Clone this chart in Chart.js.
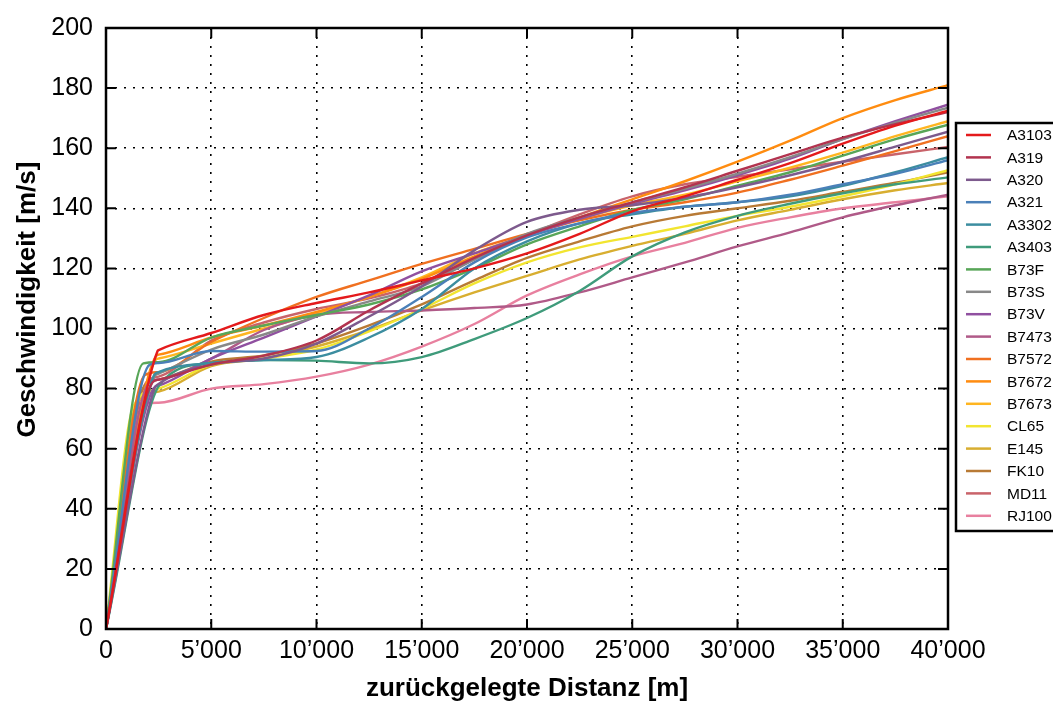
<!DOCTYPE html>
<html>
<head>
<meta charset="utf-8">
<script src="https://cdn.jsdelivr.net/npm/chart.js@4"></script>
<style>
  html, body { margin: 0; padding: 0; background: #fff; }
  canvas { display: block; }
</style>
</head>
<body>
<canvas id="grafico" width="1053" height="704"></canvas>
<script>
// Flugzeugtypen und Farben
const aircraft = ['A3103', 'A319', 'A320', 'A321', 'A3302', 'A3403', 'B73F', 'B73S', 'B73V',
                  'B7473', 'B7572', 'B7672', 'B7673', 'CL65', 'E145', 'FK10', 'MD11', 'RJ100'];
const colors = ['#e41a1c', '#b2334f', '#7d5a8d', '#4a80b8', '#3c8da0', '#3f9b7b', '#58a658', '#888888', '#9050a0',
                '#b05a88', '#f07020', '#ff8c10', '#ffb520', '#f2e530', '#d8ae30', '#b87a35', '#c9636a', '#e8809f'];

// Ende der Startrollstrecke (Distanz [m], Geschwindigkeit [m/s])
const rollDist  = [2450, 2200, 2300, 2080, 2250, 2570, 1770, 2300, 2250, 2050, 1850, 2400, 2350, 1300, 1450, 1750, 1900, 1900];
const rollSpeed = [92.5, 82, 80, 88, 84, 81.5, 88.4, 84, 80, 82, 84.5, 91, 89.5, 74, 75, 80, 82, 75];

// Stützstellen der Distanz
const distances = [2500, 5000, 7500, 10000, 12500, 15000, 17500, 20000, 22500, 25000, 27500, 30000, 32500, 35000, 37500, 40000];

const vA3103 = [92.8, 98.5, 104.5, 108.5, 112, 116, 120, 125, 131.5, 139, 144, 149.5, 155, 161.5, 167.5, 172.5];
const vA319  = [83, 88, 91, 96, 106, 115, 123.5, 131, 137, 142, 147, 152.5, 158, 163.5, 168, 172];
const vA320  = [81.5, 88, 90, 95, 104, 114, 126, 135.5, 139.5, 141, 143.5, 147, 151, 155.5, 160.5, 165.5];
const vA321  = [88.5, 92.5, 92.3, 92.5, 100, 110.5, 122, 130.3, 135, 138.5, 140.5, 142, 144.5, 148, 151.5, 156];
const vA3302 = [85.5, 88.5, 89.5, 90.5, 97, 106.5, 120, 129, 135, 138, 140.5, 142, 144, 147.5, 152, 157];
const vA3403 = [null, 88.5, 89.5, 89.3, 88.4, 90.5, 96.5, 103.5, 112.5, 124, 132, 137.5, 141.5, 145, 148, 150.3];
const vB73F  = [88.8, 97, 101, 104.5, 108, 113, 120, 128, 134, 139.5, 143, 147.5, 152, 157.5, 163, 167.8];
const vB73S  = [85, 93, 98, 104, 109, 114, 123, 131.5, 137, 142, 146.5, 151.5, 157, 163, 168.5, 173.5];
const vB73V  = [81, 90, 97, 104, 111, 119, 125, 131, 136.5, 141.5, 146, 151, 156.5, 163, 169, 174.5];
const vB7473 = [83, 90, 99.5, 104.5, 105.5, 106, 106.8, 108, 112, 117, 122, 127.3, 132, 137, 141, 144.5];
const vB7572 = [85.5, 95.5, 103.5, 110.5, 116, 121.5, 126.5, 131.5, 136, 139.5, 142, 145.2, 149.5, 154.2, 159, 164];
const vB7672 = [91.3, 97, 101, 105.5, 110.5, 116.5, 124, 131, 137, 143, 149, 155.5, 162.5, 170, 176, 181];
const vB7673 = [90, 95, 100, 105, 110.5, 117, 125, 131, 136.5, 141, 144.5, 149, 153.5, 158.5, 164, 169];
const vCL65  = [80, 88, 90, 93, 99, 106.5, 115, 122, 127, 130.5, 134, 137.5, 140.5, 144, 148, 152.7];
const vE145  = [79, 87.5, 90, 94, 99.5, 106, 112, 117.5, 123, 127.5, 131.5, 136, 139.5, 143, 146, 148.4];
const vFK10  = [83, 89, 91, 95, 101, 108, 116, 123.5, 129, 134, 137.5, 140, 142.5, 145.5, 148.5, 152];
const vMD11  = [84, 96, 102, 106.5, 110, 115, 123, 131, 138, 144, 148, 150.5, 153, 155.5, 158, 160.4];
const vRJ100 = [75.3, 80, 81.5, 84, 88, 94, 101.5, 111, 118, 124, 128.5, 133.5, 137, 140, 142, 144];

const speeds = [vA3103, vA319, vA320, vA321, vA3302, vA3403, vB73F, vB73S, vB73V,
                vB7473, vB7572, vB7672, vB7673, vCL65, vE145, vFK10, vMD11, vRJ100];

const xTicks = [0, 5000, 10000, 15000, 20000, 25000, 30000, 35000, 40000];
const yTicks = [0, 20, 40, 60, 80, 100, 120, 140, 160, 180, 200];

const fmt = v => String(v).replace(/\B(?=(\d{3})+(?!\d))/g, '\u2019');

const datasets = aircraft.map((name, i) => {
    const pts = [{ x: 0, y: 0 }, { x: rollDist[i], y: rollSpeed[i] }];
    distances.forEach((d, k) => {
        if (d > rollDist[i] && speeds[i][k] != null) pts.push({ x: d, y: speeds[i][k] });
    });
    return {
        label: name,
        data: pts,
        borderColor: colors[i],
        backgroundColor: colors[i],
        borderWidth: 2.4,
        pointRadius: 0,
        fill: false,
        cubicInterpolationMode: 'monotone'
    };
});

// Rahmen mit Innen-Ticks (wie matplotlib)
const frame = {
    id: 'frame',
    afterDatasetsDraw(chart) {
        const { ctx, chartArea: a, scales: { x, y } } = chart;
        ctx.save();
        ctx.strokeStyle = '#000';
        ctx.lineWidth = 2;
        ctx.beginPath();
        xTicks.forEach(t => {
            const px = x.getPixelForValue(t);
            ctx.moveTo(px, a.bottom); ctx.lineTo(px, a.bottom - 10);
            ctx.moveTo(px, a.top); ctx.lineTo(px, a.top + 10);
        });
        yTicks.forEach(t => {
            const py = y.getPixelForValue(t);
            ctx.moveTo(a.left, py); ctx.lineTo(a.left + 10, py);
            ctx.moveTo(a.right, py); ctx.lineTo(a.right - 10, py);
        });
        ctx.stroke();
        ctx.lineWidth = 2.5;
        ctx.strokeRect(a.left, a.top, a.right - a.left, a.bottom - a.top);
        ctx.restore();
    }
};

// Legende rechts, mit Rahmen
const legendBox = {
    id: 'legendBox',
    afterDraw(chart) {
        const ctx = chart.ctx;
        ctx.save();
        ctx.strokeStyle = '#000';
        ctx.lineWidth = 2.5;
        ctx.strokeRect(956, 123, 120, 408);
        ctx.font = '15.5px "Liberation Sans", Arial, sans-serif';
        ctx.textBaseline = 'middle';
        chart.data.datasets.forEach((ds, i) => {
            const yy = 135 + i * 22.4;
            ctx.strokeStyle = ds.borderColor;
            ctx.lineWidth = 2.5;
            ctx.beginPath();
            ctx.moveTo(966, yy);
            ctx.lineTo(991, yy);
            ctx.stroke();
            ctx.fillStyle = '#000';
            ctx.fillText(ds.label, 1007, yy + 1);
        });
        ctx.restore();
    }
};

const tickFont = { family: '"Liberation Sans", Arial, sans-serif', size: 25 };
const titleFont = { family: '"Liberation Sans", Arial, sans-serif', size: 26, weight: 'bold' };

new Chart(document.getElementById('grafico').getContext('2d'), {
    type: 'line',
    data: { datasets },
    options: {
        responsive: false,
        animation: false,
        layout: { padding: { top: 24, right: 105, left: 0, bottom: 0 } },
        plugins: {
            legend: { display: false },
            tooltip: { enabled: false }
        },
        scales: {
            x: {
                type: 'linear',
                min: 0,
                max: 40000,
                afterBuildTicks: s => { s.ticks = xTicks.map(v => ({ value: v })); },
                afterFit: s => { s.height = 75; },
                ticks: { callback: v => fmt(v), font: tickFont, color: '#000', padding: 7, maxRotation: 0, autoSkip: false },
                grid: { color: '#000', lineWidth: 1.6, drawTicks: false },
                border: { display: false, dash: [2, 7] },
                title: { display: true, text: 'zurückgelegte Distanz [m]', font: titleFont, color: '#000', padding: { top: 0, bottom: 0 } }
            },
            y: {
                min: 0,
                max: 200,
                afterBuildTicks: s => { s.ticks = yTicks.map(v => ({ value: v })); },
                afterFit: s => { s.width = 106; },
                ticks: { font: tickFont, color: '#000', padding: 13, autoSkip: false },
                grid: { color: '#000', lineWidth: 1.6, drawTicks: false },
                border: { display: false, dash: [2, 7] },
                // führende Leerzeichen schieben den Titel etwas nach oben
                title: { display: true, text: '        Geschwindigkeit [m/s]', font: titleFont, color: '#000', padding: { top: 12, bottom: 0 } }
            }
        }
    },
    plugins: [frame, legendBox]
});
</script>
</body>
</html>
